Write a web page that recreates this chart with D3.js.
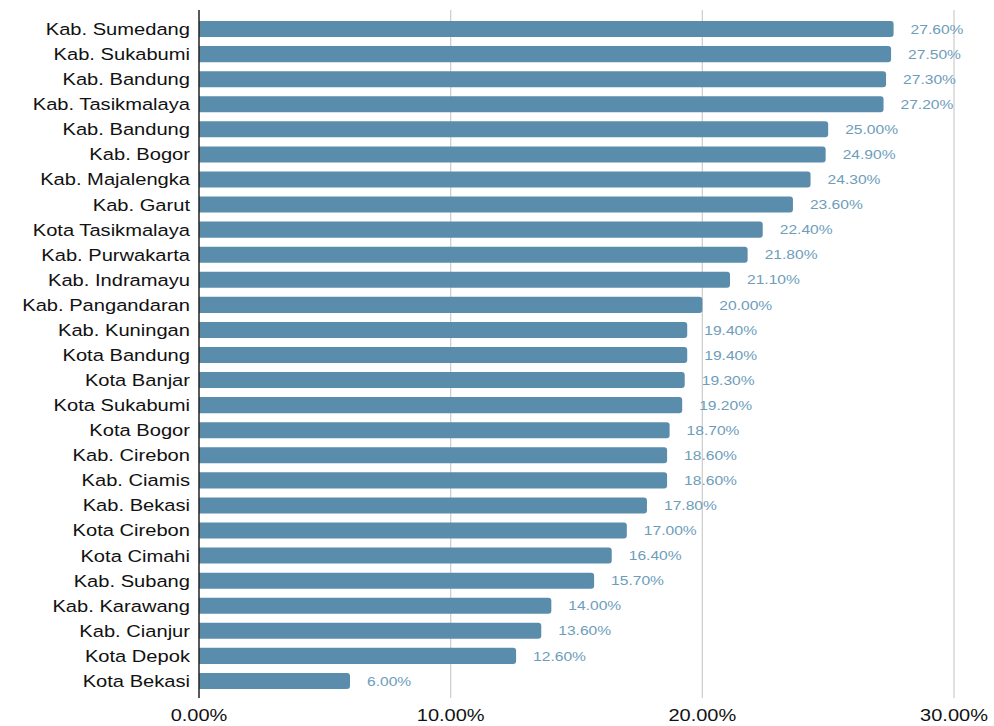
<!DOCTYPE html>
<html>
<head>
<meta charset="utf-8">
<script src="https://cdn.jsdelivr.net/npm/d3@7"></script>
<style>
  body { margin: 0; background: #fff; }
  svg text { font-family: "Liberation Sans", Arial, sans-serif; }
</style>
</head>
<body>
<div id="chart"></div>
<script>
// data
const regions = ["Kab. Sumedang", "Kab. Sukabumi", "Kab. Bandung", "Kab. Tasikmalaya", "Kab. Bandung",
    "Kab. Bogor", "Kab. Majalengka", "Kab. Garut", "Kota Tasikmalaya", "Kab. Purwakarta",
    "Kab. Indramayu", "Kab. Pangandaran", "Kab. Kuningan", "Kota Bandung", "Kota Banjar",
    "Kota Sukabumi", "Kota Bogor", "Kab. Cirebon", "Kab. Ciamis", "Kab. Bekasi",
    "Kota Cirebon", "Kota Cimahi", "Kab. Subang", "Kab. Karawang", "Kab. Cianjur",
    "Kota Depok", "Kota Bekasi"];
const values = [27.6, 27.5, 27.3, 27.2, 25.0, 24.9, 24.3, 23.6, 22.4, 21.8,
    21.1, 20.0, 19.4, 19.4, 19.3, 19.2, 18.7, 18.6, 18.6, 17.8,
    17.0, 16.4, 15.7, 14.0, 13.6, 12.6, 6.0];
const xTicks = [0, 10, 20, 30];

const width = 994, height = 726;
const margin = {left: 199, right: 40, top: 16, bottom: 33};
const sx = 1.2; // picture looks stretched sideways

const rows = regions.map((r, i) => ({id: i, name: r, value: values[i]}));

const svg = d3.select("#chart").append("svg")
    .attr("width", width)
    .attr("height", height);

const x = d3.scaleLinear().domain([0, 30]).range([margin.left, 954]);
const y = d3.scaleBand()
    .domain(rows.map(d => d.id))
    .range([margin.top, 694])
    .paddingInner(0.36)
    .paddingOuter(0.2);

// gridlines
svg.selectAll(".grid")
    .data(xTicks.filter(t => t > 0))
    .enter().append("line")
    .attr("class", "grid")
    .attr("x1", d => x(d)).attr("x2", d => x(d))
    .attr("y1", 10).attr("y2", 698)
    .attr("stroke", "#cfcfcf")
    .attr("stroke-width", 1.3);

// bars with rounded right end
const bh = y.bandwidth();
const r = 3;
svg.selectAll(".bar")
    .data(rows)
    .enter().append("path")
    .attr("class", "bar")
    .attr("fill", "#5a8dac")
    .attr("d", d => {
        const x0 = x(0), x1 = x(d.value), y0 = y(d.id);
        return `M${x0},${y0}H${x1 - r}Q${x1},${y0} ${x1},${y0 + r}V${y0 + bh - r}Q${x1},${y0 + bh} ${x1 - r},${y0 + bh}H${x0}Z`;
    });

// value labels
svg.selectAll(".val")
    .data(rows)
    .enter().append("text")
    .attr("class", "val")
    .attr("transform", d => `translate(${x(d.value) + 17},${y(d.id) + bh / 2}) scale(${sx},1)`)
    .attr("dy", "0.36em")
    .attr("fill", "#6d9dba")
    .style("font-size", "13px")
    .text(d => d.value.toFixed(2) + "%");

// category labels
svg.selectAll(".cat")
    .data(rows)
    .enter().append("text")
    .attr("class", "cat")
    .attr("transform", d => `translate(190,${y(d.id) + bh / 2}) scale(${sx + 0.02},1)`)
    .attr("dy", "0.36em")
    .attr("text-anchor", "end")
    .attr("fill", "#111")
    .style("font-size", "16.5px")
    .text(d => d.name);

// y axis line
svg.append("line")
    .attr("x1", x(0)).attr("x2", x(0))
    .attr("y1", 10).attr("y2", 698)
    .attr("stroke", "#222")
    .attr("stroke-width", 1.5);

// x tick labels
svg.selectAll(".tick")
    .data(xTicks)
    .enter().append("text")
    .attr("class", "tick")
    .attr("transform", d => `translate(${x(d)},721) scale(${sx + 0.05},1)`)
    .attr("text-anchor", "middle")
    .attr("fill", "#111")
    .style("font-size", "16px")
    .text(d => d.toFixed(2) + "%");
</script>
</body>
</html>
